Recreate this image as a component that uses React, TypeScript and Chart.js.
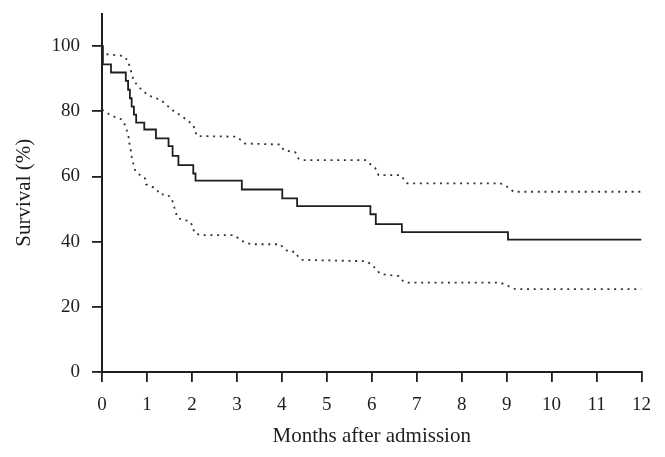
import React, { useEffect, useRef } from "react";
import { Chart, registerables } from "chart.js";

Chart.register(...registerables);

// Kaplan–Meier estimate (step function)
const kmMonths = [0, 0.02, 0.2, 0.53, 0.58, 0.62, 0.66, 0.71, 0.76, 0.94, 1.2, 1.48, 1.57, 1.7, 2.03, 2.08, 3.11, 4.01, 4.34, 5.97, 6.09, 6.67, 9.03, 12];
const kmSurvival = [100, 94.4, 91.9, 89.3, 86.6, 84.0, 81.4, 79.0, 76.5, 74.4, 71.7, 69.3, 66.3, 63.5, 60.9, 58.7, 56.0, 53.3, 50.9, 48.4, 45.4, 42.9, 40.6, 40.6];

// Upper confidence bound
const upperMonths = [0, 0.1, 0.47, 0.58, 0.62, 0.66, 0.7, 0.81, 0.92, 1.03, 1.18, 1.33, 1.44, 1.55, 1.74, 1.89, 2.03, 2.11, 3.0, 3.18, 3.96, 4.04, 4.3, 4.37, 4.45, 5.86, 6.08, 6.15, 6.64, 6.79, 8.86, 9.06, 9.15, 12];
const upperSurvival = [99, 97.5, 97, 95.5, 93.4, 91.6, 89.6, 87.5, 86.2, 84.8, 84.2, 83.2, 81.9, 80.5, 78.8, 77.3, 75.8, 72.4, 72.2, 70.1, 69.8, 68.1, 67.4, 65.5, 65.0, 65.0, 62.5, 60.4, 60.4, 57.9, 57.9, 56.5, 55.3, 55.3];

// Lower confidence bound
const lowerMonths = [0, 0.16, 0.31, 0.44, 0.51, 0.55, 0.59, 0.61, 0.64, 0.66, 0.7, 0.74, 0.83, 0.96, 0.98, 1.11, 1.22, 1.28, 1.44, 1.54, 1.59, 1.63, 1.68, 1.81, 1.94, 2.02, 2.05, 2.18, 2.93, 3.07, 3.18, 3.33, 3.96, 4.05, 4.15, 4.3, 4.37, 4.46, 5.86, 5.99, 6.1, 6.19, 6.6, 6.71, 6.82, 8.86, 8.99, 9.11, 9.2, 12];
const lowerSurvival = [80.5, 79.1, 78.1, 77.5, 75.8, 74.2, 72.2, 70.1, 68.1, 66.0, 63.8, 61.7, 60.6, 59.4, 57.6, 56.9, 56.0, 54.5, 54.5, 53.5, 51.5, 49.4, 47.3, 46.6, 46.4, 44.8, 42.8, 42.0, 42.0, 40.7, 39.7, 39.2, 39.2, 37.9, 36.9, 36.9, 35.2, 34.4, 34.0, 33.1, 31.5, 30.1, 29.4, 27.7, 27.4, 27.4, 26.7, 25.9, 25.4, 25.4];

const xTickValues = [0, 1, 2, 3, 4, 5, 6, 7, 8, 9, 10, 11, 12];
const yTickValues = [0, 20, 40, 60, 80, 100];

const xTitle = "Months after admission";
const yTitle = "Survival (%)";

const toPoints = (xs: number[], ys: number[]) => xs.map((x, i) => ({ x, y: ys[i] }));

export default function App() {
  const ref = useRef<HTMLCanvasElement>(null);

  useEffect(() => {
    const canvas = ref.current;
    if (!canvas) return;
    const ink = "#1e1e1e";
    const fontFamily = "'Liberation Serif', 'DejaVu Serif', serif";
    const chart = new Chart(canvas, {
      type: "line",
      data: {
        datasets: [
          {
            data: toPoints(upperMonths, upperSurvival),
            borderColor: "#333",
            borderWidth: 1.8,
            borderDash: [2, 4.7],
            pointRadius: 0,
            fill: false,
            tension: 0,
          },
          {
            data: toPoints(lowerMonths, lowerSurvival),
            borderColor: "#333",
            borderWidth: 1.8,
            borderDash: [2, 4.7],
            pointRadius: 0,
            fill: false,
            tension: 0,
          },
          {
            data: toPoints(kmMonths, kmSurvival),
            borderColor: ink,
            borderWidth: 1.8,
            stepped: "before",
            pointRadius: 0,
            fill: false,
          },
        ],
      },
      options: {
        responsive: false,
        animation: false,
        devicePixelRatio: 1,
        layout: { padding: { top: 13.5, right: 23.5, left: 0, bottom: 0 } },
        plugins: { legend: { display: false }, tooltip: { enabled: false } },
        font: { family: fontFamily },
        scales: {
          x: {
            type: "linear",
            min: 0,
            max: 12,
            afterFit: (s: any) => {
              s.height = 85;
              s.paddingLeft = 0;
              s.paddingRight = 0;
            },
            afterBuildTicks: (s: any) => {
              s.ticks = xTickValues.map((v) => ({ value: v }));
            },
            ticks: {
              font: { family: fontFamily, size: 19 },
              color: ink,
              padding: 12,
              maxRotation: 0,
              autoSkip: false,
            },
            grid: {
              drawOnChartArea: false,
              drawTicks: true,
              tickLength: 10,
              color: ink,
              lineWidth: 1.8,
            },
            border: { display: true, color: ink, width: 2 },
            title: {
              display: true,
              text: xTitle,
              color: ink,
              font: { family: fontFamily, size: 21, lineHeight: 1.2 },
              padding: { top: 0, bottom: 8 },
            },
          },
          y: {
            type: "linear",
            min: 0,
            max: 110,
            afterFit: (s: any) => {
              s.width = 102;
              s.paddingTop = 0;
              s.paddingBottom = 0;
            },
            afterBuildTicks: (s: any) => {
              s.ticks = yTickValues.map((v) => ({ value: v }));
            },
            ticks: {
              font: { family: fontFamily, size: 19 },
              color: ink,
              padding: 12,
              autoSkip: false,
            },
            grid: {
              drawOnChartArea: false,
              drawTicks: true,
              tickLength: 10,
              color: ink,
              lineWidth: 1.8,
            },
            border: { display: true, color: ink, width: 2 },
            title: {
              display: true,
              text: yTitle,
              color: ink,
              font: { family: fontFamily, size: 21, lineHeight: 1.2 },
              padding: { top: 12, bottom: 0 },
            },
          },
        },
      },
    } as any);
    return () => chart.destroy();
  }, []);

  return (
    <div style={{ position: "fixed", left: 0, top: 0, width: 665, height: 457, background: "#fff" }}>
      <canvas ref={ref} width={665} height={457} style={{ display: "block" }} />
    </div>
  );
}
